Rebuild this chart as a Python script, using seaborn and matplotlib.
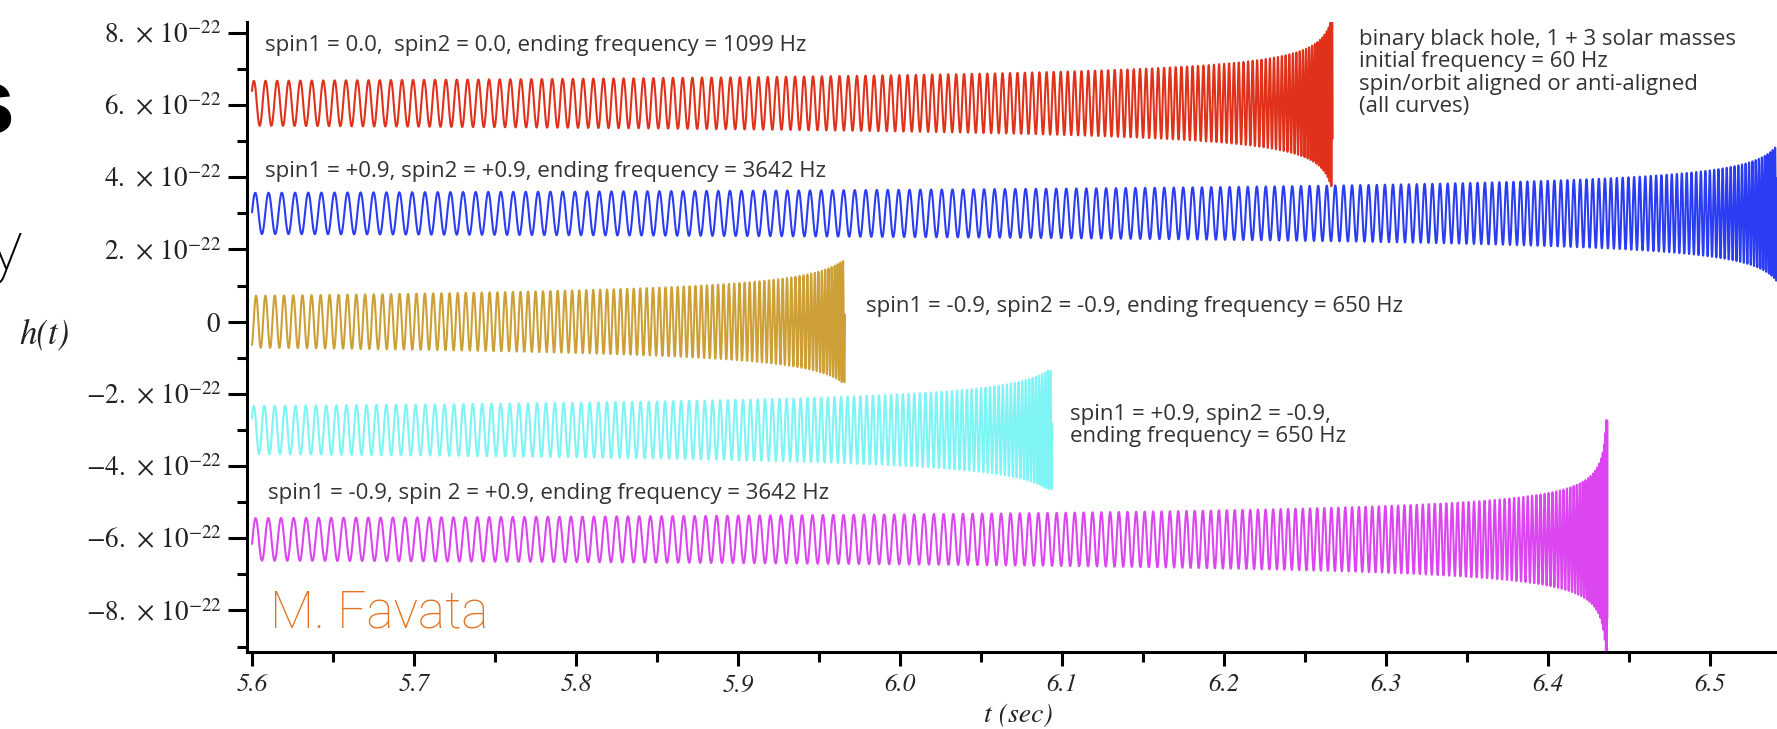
import numpy as np
import matplotlib
matplotlib.use("Agg")
import matplotlib.pyplot as plt
import seaborn as sns
from matplotlib.ticker import FixedLocator, FixedFormatter, MultipleLocator

# ---------------- values ----------------
series_names = ["s00", "s++", "s--", "s+-", "s-+"]
end_times = [6.267, 6.549, 5.966, 6.094, 6.4366]      # s, where each curve stops
end_freqs = [1099.0, 3642.0, 650.0, 650.0, 3642.0]    # Hz, from the labels
offsets = [6.05e-22, 3.0e-22, 0.0, -3.0e-22, -6.03e-22]   # vertical shift of each curve
peak_amps = [2.3e-22, 3.3e-22, 1.68e-22, 1.64e-22, 3.3e-22]  # largest excursion at the end
amp_at_100hz = 0.5e-22          # strain amplitude at 100 Hz
chirp_mass_msun = 1.465         # 1 + 3 solar masses
t_start = 5.6
colors = ["#E0311B", "#2B3DF2", "#CCA036", "#7EF4F4", "#DC46F0"]

x_tick_values = [5.6, 5.7, 5.8, 5.9, 6.0, 6.1, 6.2, 6.3, 6.4, 6.5]
x_tick_labels = ["5.6", "5.7", "5.8", "5.9", "6.0", "6.1", "6.2", "6.3", "6.4", "6.5"]
y_tick_values = [-8e-22, -6e-22, -4e-22, -2e-22, 0.0, 2e-22, 4e-22, 6e-22, 8e-22]
y_tick_labels = [r"$\mathit{-8.}\,\times\,\mathit{10}^{\mathit{-22}}$",
                 r"$\mathit{-6.}\,\times\,\mathit{10}^{\mathit{-22}}$",
                 r"$\mathit{-4.}\,\times\,\mathit{10}^{\mathit{-22}}$",
                 r"$\mathit{-2.}\,\times\,\mathit{10}^{\mathit{-22}}$",
                 r"$\mathit{0}$",
                 r"$\mathit{2.}\,\times\,\mathit{10}^{\mathit{-22}}$",
                 r"$\mathit{4.}\,\times\,\mathit{10}^{\mathit{-22}}$",
                 r"$\mathit{6.}\,\times\,\mathit{10}^{\mathit{-22}}$",
                 r"$\mathit{8.}\,\times\,\mathit{10}^{\mathit{-22}}$"]

curve_labels = [
    (["spin1 = 0.0,  spin2 = 0.0, ending frequency = 1099 Hz"], 5.608, 7.51e-22),
    (["spin1 = +0.9, spin2 = +0.9, ending frequency = 3642 Hz"], 5.608, 4.02e-22),
    (["spin1 = -0.9, spin2 = -0.9, ending frequency = 650 Hz"], 5.979, 0.27e-22),
    (["spin1 = +0.9, spin2 = -0.9,", "ending frequency = 650 Hz"], 6.105, -2.72e-22),
    (["spin1 = -0.9, spin 2 = +0.9, ending frequency = 3642 Hz"], 5.610, -4.91e-22),
    (["binary black hole, 1 + 3 solar masses", "initial frequency = 60 Hz",
      "spin/orbit aligned or anti-aligned", "(all curves)"], 6.283, 7.66e-22),
]

# ---------------- style ----------------
sns.set_theme(style="ticks")
plt.rcParams.update({
    "font.family": ["Open Sans", "DejaVu Sans"],
    "mathtext.fontset": "stix",
    "path.simplify": False,
    "agg.path.chunksize": 20000,
    "axes.edgecolor": "black",
    "xtick.color": "black",
    "ytick.color": "black",
})

W, H = 1777, 729
fig = plt.figure(figsize=(W / 100, H / 100), dpi=100)
fig.patch.set_facecolor("white")
ax = fig.add_axes([247 / W, 1 - 652 / H, 1 - 247 / W, (652 - 21.7) / H])
ax.set_facecolor("white")

# ---------------- inspiral chirps (leading-order post-Newtonian) ----------------
MSUN_S = 4.925491e-6
mc = chirp_mass_msun * MSUN_S


def tau_of_f(f):
    return 5.0 / 256.0 * mc ** (-5.0 / 3.0) * (np.pi * f) ** (-8.0 / 3.0)


def f_of_tau(tau):
    return (1.0 / np.pi) * (5.0 / (256.0 * tau)) ** 0.375 * mc ** (-0.625)


dt = 1.0e-5
for i in range(len(series_names)):
    tc = end_times[i] + tau_of_f(end_freqs[i])
    t = np.append(np.arange(t_start, end_times[i], dt), end_times[i])
    tau = tc - t
    f = f_of_tau(tau)
    amp = np.minimum(amp_at_100hz * (f / 100.0) ** (2.0 / 3.0), peak_amps[i])
    phase = -2.0 * (tau / (5.0 * mc)) ** 0.625
    h = offsets[i] + amp * np.cos(phase)
    sns.lineplot(x=t, y=h, ax=ax, color=colors[i], linewidth=1.5,
                 estimator=None, sort=False, errorbar=None, legend=False)

# ---------------- axes ----------------
ax.set_xlim(5.5969, 6.5413)
ax.set_ylim(-9.15e-22, 8.31e-22)
for s in ["top", "right"]:
    ax.spines[s].set_visible(False)
for s in ["left", "bottom"]:
    ax.spines[s].set_linewidth(2.2)
    ax.spines[s].set_color("black")

ax.xaxis.set_major_locator(FixedLocator(x_tick_values))
ax.xaxis.set_major_formatter(FixedFormatter(x_tick_labels))
ax.xaxis.set_minor_locator(MultipleLocator(0.05))
ax.yaxis.set_major_locator(FixedLocator(y_tick_values))
ax.yaxis.set_major_formatter(FixedFormatter(y_tick_labels))
ax.yaxis.set_minor_locator(MultipleLocator(1e-22))
ax.tick_params(axis="y", which="major", length=13.5, width=2.2, direction="out",
               labelsize=19.5, pad=5, labelcolor="#222222")
ax.tick_params(axis="y", which="minor", length=7, width=2.2, direction="out")
ax.tick_params(axis="x", which="major", length=10, width=2.2, direction="out",
               labelsize=18, pad=6, labelcolor="#222222")
ax.tick_params(axis="x", which="minor", length=7, width=2.2, direction="out")
for lab in ax.get_xticklabels():
    lab.set_fontfamily("STIXGeneral")
    lab.set_style("italic")
ax.set_xlabel("")
ax.set_ylabel("")

fig.text(1018 / W, 1 - 716 / H, "t (sec)", ha="center", va="center",
         fontsize=20, fontfamily="STIXGeneral", style="italic", color="#222222")
fig.text(44 / W, 1 - 334 / H, "h(t)", ha="center", va="center",
         fontsize=25, fontfamily="STIXGeneral", style="italic", color="#222222")

# curve annotations
line_step = 0.618e-22
for lines, tx, ty in curve_labels:
    for k, line in enumerate(lines):
        ax.text(tx, ty - k * line_step, line, ha="left", va="baseline",
                fontsize=16, color="#333333", fontfamily=["Open Sans", "DejaVu Sans"])

ax.text(5.611, -8.46e-22, "M. Favata", ha="left", va="baseline", fontsize=37,
        color="#E2721F", fontfamily=["Roboto", "DejaVu Sans"], fontweight="light")

# fragments of the surrounding slide text (cut by the left edge, as in the source)
fig.text(15 / W, 1 - 133 / H, "s", ha="right", va="baseline", fontsize=66,
         fontweight="bold", color="black", fontfamily=["Liberation Sans", "DejaVu Sans"])
fig.text(22 / W, 1 - 270 / H, "y", ha="right", va="baseline", fontsize=51,
         fontweight="light", color="black", fontfamily=["Roboto", "DejaVu Sans"])

fig.savefig("out.png", dpi=100, facecolor="white")
